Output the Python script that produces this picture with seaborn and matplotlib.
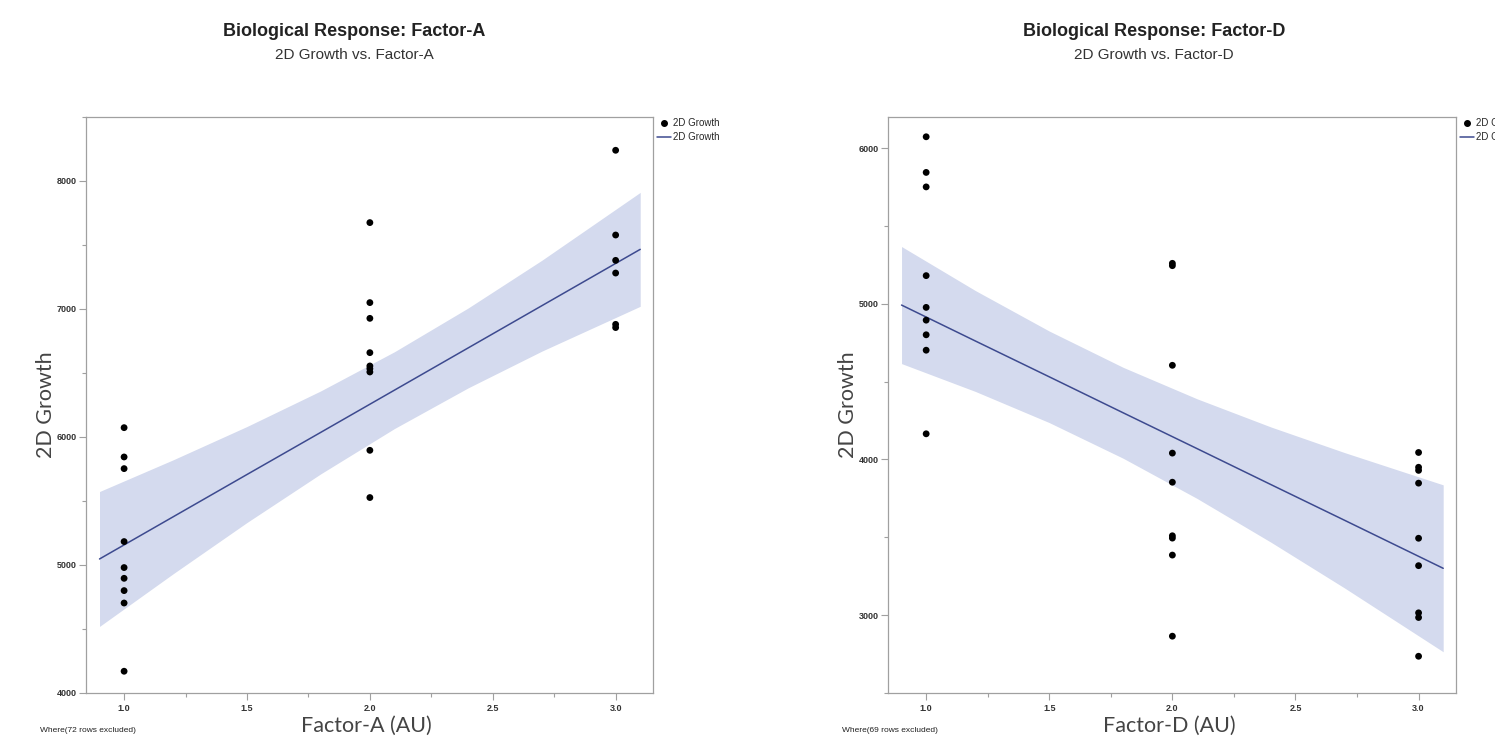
import numpy as np
import pandas as pd
import seaborn as sns
import matplotlib.pyplot as plt
from matplotlib.ticker import MultipleLocator, FormatStrFormatter
from matplotlib.lines import Line2D

# setup
sns.set_theme(style='white')
plt.rcParams['font.family'] = ['Liberation Sans', 'DejaVu Sans']

# data
factor_a = [1, 1, 1, 1, 1, 1, 1, 1, 1,
            2, 2, 2, 2, 2, 2, 2, 2, 2,
            3, 3, 3, 3, 3, 3]
growth_a = [6073, 5844, 5753, 5183, 4980, 4896, 4800, 4703, 4170,
            7675, 7050, 6927, 6659, 6555, 6534, 6508, 5896, 5527,
            8240, 7578, 7380, 7281, 6880, 6855]

factor_d = [1, 1, 1, 1, 1, 1, 1, 1, 1,
            2, 2, 2, 2, 2, 2, 2, 2, 2,
            3, 3, 3, 3, 3, 3, 3, 3, 3]
growth_d = [6073, 5844, 5751, 5181, 4977, 4895, 4801, 4702, 4165,
            5260, 5245, 4605, 4041, 3854, 3510, 3495, 3386, 2865,
            4045, 3950, 3930, 3848, 3494, 3318, 3015, 2985, 2736]

# fitted line and confidence band
fit_x = [0.9, 1.2, 1.5, 1.8, 2.1, 2.4, 2.7, 3.1]
fit_a = [5047, 5377, 5707, 6036, 6366, 6696, 7026, 7466]
upper_a = [5574, 5822, 6082, 6360, 6666, 7008, 7381, 7911]
lower_a = [4520, 4932, 5332, 5712, 6066, 6384, 6671, 7021]
fit_d = [4992, 4761, 4531, 4300, 4070, 3839, 3609, 3301]
upper_d = [5368, 5085, 4825, 4592, 4390, 4209, 4044, 3837]
lower_d = [4616, 4437, 4237, 4008, 3750, 3469, 3174, 2765]

panels = [
    dict(x=factor_a, y=growth_a, fit=fit_a, up=upper_a, lo=lower_a,
         name='Factor-A', ylim=(4000, 8500), excl='Where(72 rows excluded)',
         rect=[86 / 1495, 43 / 736, 567 / 1495, 576 / 736], cx=354),
    dict(x=factor_d, y=growth_d, fit=fit_d, up=upper_d, lo=lower_d,
         name='Factor-D', ylim=(2500, 6200), excl='Where(69 rows excluded)',
         rect=[888 / 1495, 43 / 736, 568 / 1495, 576 / 736], cx=1154),
]

line_col = '#3d4a8f'
band_col = '#d4daee'
spine_col = '#a0a0a0'

fig = plt.figure(figsize=(14.95, 7.36), dpi=100)

for p in panels:
    ax = fig.add_axes(p['rect'])
    df = pd.DataFrame({'x': p['x'], 'y': p['y']})
    fit = pd.DataFrame({'x': fit_x, 'fit': p['fit'], 'up': p['up'], 'lo': p['lo']})

    ax.fill_between(fit['x'], fit['lo'], fit['up'], color=band_col, lw=0, zorder=1)
    sns.lineplot(x='x', y='fit', data=fit, ax=ax, color=line_col, lw=1.1, zorder=2)
    sns.scatterplot(x='x', y='y', data=df, ax=ax, color='black', s=24,
                    edgecolor='none', zorder=3)

    ax.set_xlim(0.845, 3.152)
    ax.set_ylim(*p['ylim'])
    ax.xaxis.set_major_locator(MultipleLocator(0.5))
    ax.xaxis.set_minor_locator(MultipleLocator(0.25))
    ax.yaxis.set_major_locator(MultipleLocator(1000))
    ax.yaxis.set_minor_locator(MultipleLocator(500))
    ax.xaxis.set_major_formatter(FormatStrFormatter('%.1f'))
    ax.tick_params(which='both', bottom=True, left=True, direction='out',
                   color=spine_col, width=0.8)
    ax.tick_params(which='major', length=5, pad=1.5, labelsize=6.5,
                   labelcolor='#333333')
    ax.tick_params(axis='x', which='major', pad=3)
    ax.tick_params(which='minor', length=3)
    for lab in ax.get_xticklabels() + ax.get_yticklabels():
        lab.set_fontweight('bold')
    for s in ax.spines.values():
        s.set_color(spine_col)
        s.set_linewidth(0.9)

    ax.set_xlabel(p['name'] + ' (AU)', fontsize=15.5, family='Lato',
                  fontweight='normal', color='#444444', va='center')
    ax.set_ylabel('2D Growth', fontsize=15.5, family='Lato',
                  fontweight='normal', color='#444444', va='center')
    w = p['rect'][2] * 1495
    ax.xaxis.set_label_coords(0.495, -33 / 576)
    ax.yaxis.set_label_coords(-40 / w, 0.5)

    handles = [Line2D([], [], marker='o', ls='none', color='black', markersize=4),
               Line2D([], [], color=line_col, lw=1.1)]
    ax.legend(handles, ['2D Growth', '2D Growth'], loc='upper left',
              bbox_to_anchor=(0.995, 1.01), frameon=False, fontsize=7,
              handlelength=1.4, handletextpad=0.3, labelspacing=0.4,
              borderaxespad=0.3)

    fig.text(p['cx'] / 1495, 1 - 32 / 736, 'Biological Response: ' + p['name'],
             ha='center', va='center', fontsize=13, fontweight='bold', color='#222222')
    fig.text(p['cx'] / 1495, 1 - 55 / 736, '2D Growth vs. ' + p['name'],
             ha='center', va='center', fontsize=11, color='#333333')
    fig.text((p['rect'][0] * 1495 - 46) / 1495, 6 / 736, p['excl'],
             ha='left', va='center', fontsize=6, color='#222222')

fig.savefig('out.png', dpi=100)
